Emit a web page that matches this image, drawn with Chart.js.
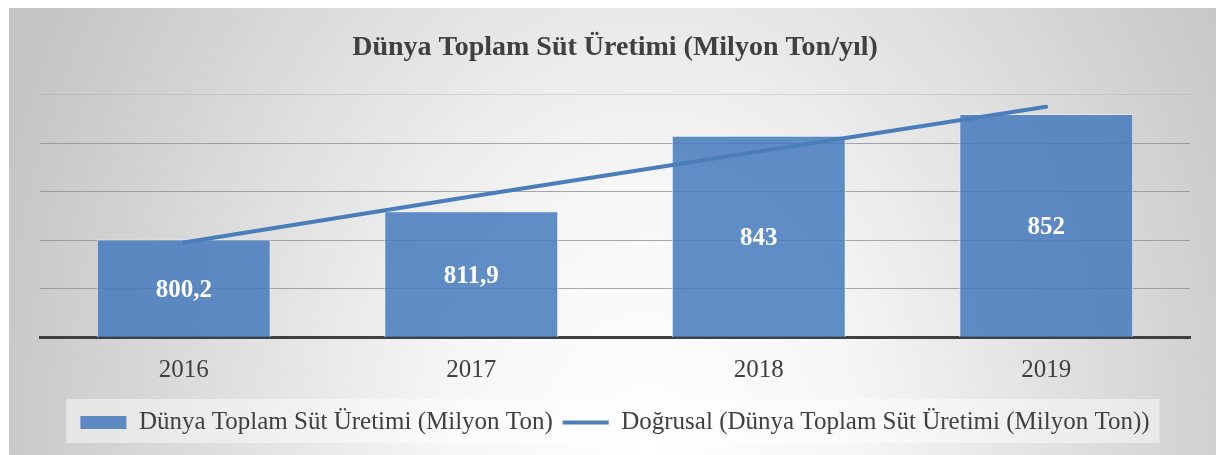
<!DOCTYPE html>
<html>
<head>
<meta charset="utf-8">
<script src="https://cdn.jsdelivr.net/npm/chart.js@4.4.1/dist/chart.umd.min.js"></script>
<style>
html,body{margin:0;padding:0;background:#fff;}
#card{position:absolute;left:9px;top:8px;width:1207px;height:447px;
 background:radial-gradient(ellipse 680px 900px at 53% 100%, #ffffff 0%, #f6f6f6 30%, #c5c5c5 100%);}
#wrap{position:absolute;left:0;top:0;width:1220px;height:455px;}
</style>
</head>
<body>
<div id="card"></div>
<div id="wrap"><canvas id="c"></canvas></div>
<script>
const years = ['2016', '2017', '2018', '2019'];
const production = [800.2, 811.9, 843, 852];
const trend = [799, 818, 836.5, 855];
const yTicks = [760, 780, 800, 820, 840, 860];
const titleText = 'Dünya Toplam Süt Üretimi (Milyon Ton/yıl)';
const barLabel = 'Dünya Toplam Süt Üretimi (Milyon Ton)';
const trendLabel = 'Doğrusal (Dünya Toplam Süt Üretimi (Milyon Ton))';

const SERIF = '"Liberation Serif", "DejaVu Serif", serif';
const BAR_FILL = 'rgba(68,120,188,0.84)';
const LINE_COL = '#4a7ebb';

const legendBg = {
  id: 'legendBg',
  beforeDraw(chart) {
    const hb = chart.legend && chart.legend.legendHitBoxes;
    if (!hb || !hb.length) return;
    const first = hb[0], last = hb[hb.length - 1];
    const l = first.left - 14, r = last.left + last.width + 10;
    const ctx = chart.ctx;
    ctx.save();
    ctx.fillStyle = 'rgba(255,255,255,0.45)';
    ctx.fillRect(l, 399, r - l, 44);
    ctx.restore();
  }
};

const barLabels = {
  id: 'barLabels',
  afterDraw(chart) {
    const xs = chart.scales.x, ys = chart.scales.y;
    const ctx = chart.ctx;
    ctx.save();
    ctx.fillStyle = '#ffffff';
    ctx.font = 'bold 25px ' + SERIF;
    ctx.textAlign = 'center';
    ctx.textBaseline = 'middle';
    production.forEach((v, i) => {
      const x = xs.getPixelForValue(i);
      const top = ys.getPixelForValue(v);
      const base = ys.getPixelForValue(yTicks[0]);
      ctx.fillText(String(v).replace('.', ','), x, (top + base) / 2 + 2);
    });
    ctx.restore();
  }
};

new Chart(document.getElementById('c'), {
  data: {
    labels: years,
    datasets: [
      {
        type: 'bar',
        label: barLabel,
        data: production,
        backgroundColor: BAR_FILL,
        borderColor: 'rgba(230,236,246,0.9)',
        borderWidth: 1,
        categoryPercentage: 1,
        barPercentage: 0.605,
        order: 1
      },
      {
        type: 'line',
        label: trendLabel,
        data: trend,
        borderColor: LINE_COL,
        borderWidth: 4,
        pointRadius: 0,
        fill: false,
        tension: 0,
        borderCapStyle: 'round',
        order: 0
      }
    ]
  },
  options: {
    responsive: true,
    maintainAspectRatio: false,
    animation: false,
    layout: { padding: { left: 40, right: 30, top: 0, bottom: 10 } },
    plugins: {
      tooltip: { enabled: false },
      title: {
        display: true,
        text: titleText,
        color: '#404040',
        font: { family: SERIF, size: 28, weight: 'bold' },
        padding: { top: 31, bottom: 30 }
      },
      legend: {
        position: 'bottom',
        labels: {
          color: '#404040',
          font: { family: SERIF, size: 25 },
          usePointStyle: true,
          pointStyleWidth: 46,
          boxHeight: 13,
          padding: 10,
          generateLabels() {
            return [
              { text: barLabel, fillStyle: BAR_FILL, strokeStyle: BAR_FILL, lineWidth: 0, pointStyle: 'rect', datasetIndex: 0, fontColor: '#404040' },
              { text: trendLabel, fillStyle: LINE_COL, strokeStyle: LINE_COL, lineWidth: 4, pointStyle: 'line', datasetIndex: 1, fontColor: '#404040' }
            ];
          }
        }
      }
    },
    scales: {
      x: {
        grid: { display: false },
        border: { display: true, color: '#404040', width: 3 },
        ticks: { color: '#404040', font: { family: SERIF, size: 25 }, padding: 10 },
        afterFit(s) { s.height = 63; }
      },
      y: {
        min: yTicks[0],
        max: yTicks[yTicks.length - 1],
        afterBuildTicks(s) { s.ticks = yTicks.map(v => ({ value: v })); },
        ticks: { display: false },
        border: { display: false },
        grid: {
          drawTicks: false,
          color(ctx) { return ctx.tick && ctx.tick.value === 860 ? 'rgba(160,160,160,0.35)' : 'rgba(140,140,140,0.75)'; },
          lineWidth: 1
        },
        afterFit(s) { s.width = 0; }
      }
    }
  },
  plugins: [legendBg, barLabels]
});
</script>
</body>
</html>
